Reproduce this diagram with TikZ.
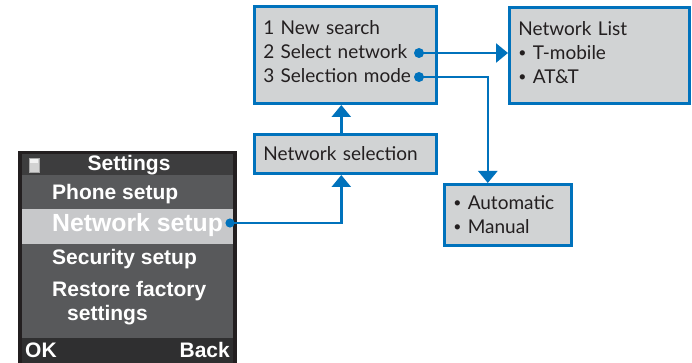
\documentclass[tikz,border=0pt]{standalone}
\usepackage{fontspec}
\setmainfont{Lato}
\newfontfamily\phonefamily{Liberation Sans}
\usetikzlibrary{arrows.meta}

\definecolor{navblue}{RGB}{0,114,188}
\definecolor{boxgray}{RGB}{209,211,212}
\definecolor{textdark}{RGB}{35,31,32}
\definecolor{framedark}{RGB}{35,31,32}
\definecolor{titlegray}{RGB}{61,61,62}
\definecolor{screengray}{RGB}{88,89,91}
\definecolor{rowlight}{RGB}{199,200,202}
\definecolor{bargray}{RGB}{47,47,48}

\newcommand{\boxfont}{\fontsize{19}{24}\selectfont}
\newcommand{\phonefont}{\phonefamily\bfseries\fontsize{21}{24}\selectfont}
\newcommand{\dotitem}{\raisebox{2.2pt}{\fontsize{14}{14}\selectfont\textbullet}}
\newcommand{\lift}{\rule[-6pt]{0pt}{0pt}}

\begin{document}
\begin{tikzpicture}[x=1pt,y=-1pt,
    menubox/.style={draw=navblue, line width=2.6pt, fill=boxgray, text=textdark,
      font=\boxfont, align=left, inner xsep=9pt, anchor=north west},
    link/.style={draw=navblue, line width=2.5pt},
    linkarrow/.style={link, -{Triangle[width=19pt,length=12pt]}},
    phonetext/.style={text=white, font=\phonefont, inner sep=0pt, anchor=base west}]
    \useasboundingbox (0,0) rectangle (692,363);
    % phone screen
    \fill[framedark] (18,151) rectangle (237,363);
    \fill[titlegray] (22,154) rectangle (233,175);
    \fill[screengray] (22,175) rectangle (233,338);
    \fill[rowlight] (22,209) rectangle (233,244);
    \fill[bargray] (22,338) rectangle (233,363);
    \filldraw[fill=gray!35, draw=gray!70, line width=0.6pt] (29,158) rectangle (39,172);
    \fill[white!90!gray] (30,159) rectangle (38,163);
    \node[phonetext, anchor=base] (title) at (129,171) {Settings};
    \node[phonetext] (phone) at (52,200) {Phone setup};
    \node[phonetext, font=\phonefamily\bfseries\fontsize{24.8}{28}\selectfont] (network) at (52,231) {Network setup};
    \node[phonetext] (security) at (52,264) {Security setup};
    \node[phonetext] (restore) at (52,296) {Restore factory};
    \node[phonetext] (restore2) at (67,320) {settings};
    \node[phonetext] (ok) at (25,357) {OK};
    \node[phonetext, anchor=base east] (back) at (230,357) {Back};
    % menu boxes
    \node[menubox, text width=164pt, minimum height=97.4pt] (search) at (253,5)
        {1 New search\\2 Select network\\3 Selection mode\lift};
    \node[menubox, text width=164pt, minimum height=39.4pt] (netsel) at (253,133)
        {Network selection};
    \node[menubox, text width=162pt, minimum height=96.4pt] (netlist) at (508,6)
        {Network List\\\dotitem{} T-mobile\\\dotitem{} AT\&T\lift};
    \node[menubox, text width=109pt, minimum height=61.4pt] (mode) at (443,183)
        {\dotitem{} Automatic\\\dotitem{} Manual};
    % connectors
    \coordinate (netdot) at (230,223);
    \coordinate (seldot) at (419,53);
    \coordinate (modedot) at (419,77);
    \draw[linkarrow] (netdot) -| ([xshift=-4pt]netsel.south);
    \draw[linkarrow] ([xshift=-4pt]netsel.north) -- ([xshift=-4pt]search.south);
    \draw[linkarrow] (seldot) -- (seldot -| netlist.west);
    \draw[linkarrow] (modedot) -| ([xshift=-20pt]mode.north);
    \fill[navblue] (netdot) circle (4.6pt) (seldot) circle (5pt) (modedot) circle (5pt);
\end{tikzpicture}
\end{document}
